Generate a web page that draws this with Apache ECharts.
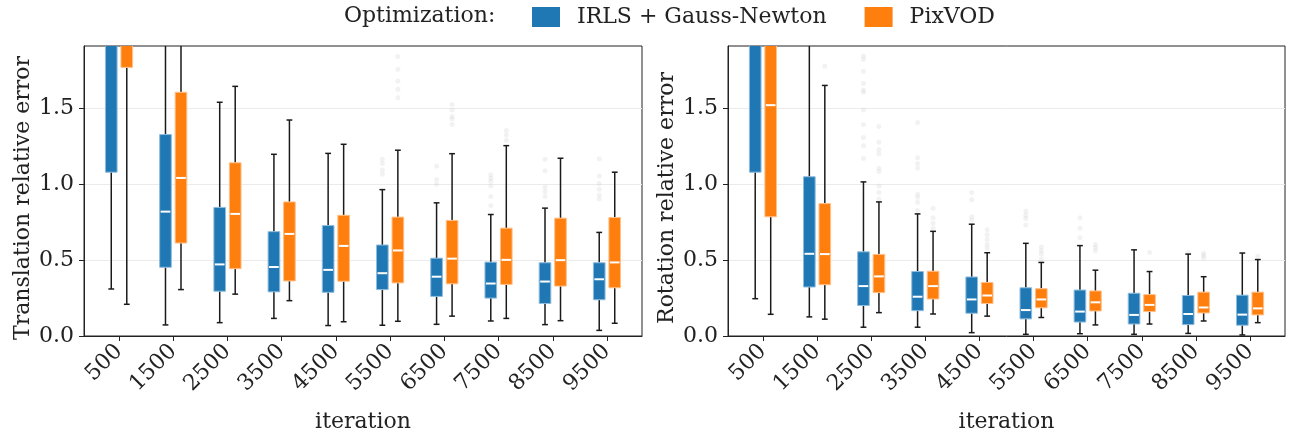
<!DOCTYPE html>
<html>
<head>
<meta charset="utf-8">
<script src="https://cdn.jsdelivr.net/npm/echarts@6/dist/echarts.min.js"></script>
<style>
  html, body { margin: 0; padding: 0; background: #fff; }
  #main { width: 1293px; height: 438px; }
</style>
</head>
<body>
<div id="main"></div>
<script>
// x categories
var iterLabels = ['500', '1500', '2500', '3500', '4500', '5500', '6500', '7500', '8500', '9500'];

// box stats: [min whisker, Q1, median, Q3, max whisker]
var transIrls = [
    [0.31, 1.08, 2.40, 3.60, 6.00],
    [0.073, 0.453, 0.820, 1.328, 2.60],
    [0.088, 0.295, 0.472, 0.848, 1.541],
    [0.116, 0.291, 0.455, 0.688, 1.198],
    [0.069, 0.288, 0.436, 0.728, 1.204],
    [0.071, 0.306, 0.414, 0.600, 0.965],
    [0.077, 0.261, 0.391, 0.513, 0.878],
    [0.099, 0.250, 0.346, 0.487, 0.801],
    [0.075, 0.214, 0.359, 0.483, 0.843],
    [0.037, 0.239, 0.374, 0.483, 0.683]
];
var transPix = [
    [0.209, 1.771, 2.90, 4.20, 7.00],
    [0.306, 0.613, 1.042, 1.607, 2.80],
    [0.276, 0.444, 0.805, 1.142, 1.646],
    [0.233, 0.363, 0.673, 0.884, 1.424],
    [0.094, 0.361, 0.594, 0.796, 1.264],
    [0.097, 0.350, 0.564, 0.784, 1.225],
    [0.131, 0.344, 0.510, 0.762, 1.202],
    [0.116, 0.340, 0.502, 0.711, 1.255],
    [0.101, 0.329, 0.500, 0.777, 1.172],
    [0.084, 0.318, 0.485, 0.781, 1.080]
];
var rotIrls = [
    [0.246, 1.080, 2.20, 3.40, 5.50],
    [0.126, 0.323, 0.542, 1.050, 2.20],
    [0.058, 0.201, 0.329, 0.555, 1.016],
    [0.058, 0.167, 0.259, 0.425, 0.805],
    [0.022, 0.150, 0.241, 0.389, 0.737],
    [0.011, 0.113, 0.171, 0.318, 0.611],
    [0.015, 0.092, 0.161, 0.303, 0.596],
    [0.011, 0.079, 0.139, 0.282, 0.568],
    [0.017, 0.075, 0.145, 0.267, 0.540],
    [0.007, 0.071, 0.141, 0.269, 0.547]
];
var rotPix = [
    [0.143, 0.786, 1.522, 2.30, 4.00],
    [0.111, 0.338, 0.540, 0.873, 1.652],
    [0.154, 0.286, 0.393, 0.538, 0.884],
    [0.145, 0.244, 0.329, 0.427, 0.690],
    [0.131, 0.214, 0.267, 0.353, 0.549],
    [0.122, 0.186, 0.241, 0.312, 0.485],
    [0.073, 0.165, 0.222, 0.297, 0.434],
    [0.079, 0.161, 0.205, 0.273, 0.425],
    [0.099, 0.152, 0.188, 0.289, 0.391],
    [0.088, 0.139, 0.182, 0.289, 0.504]
];

// outliers: [category index, value]
var transIrlsOut = [
    [5, 1.166], [5, 1.138], [5, 1.095], [5, 1.067],
    [6, 1.121], [6, 1.031], [6, 1.001],
    [7, 1.063], [7, 1.040], [7, 1.020], [7, 0.989], [7, 0.920], [7, 0.860],
    [8, 1.166], [8, 1.089], [8, 0.980], [8, 0.952], [8, 0.920],
    [9, 1.168], [9, 1.055], [9, 1.006], [9, 0.967], [9, 0.929], [9, 0.903]
];
var transPixOut = [
    [5, 1.842], [5, 1.759], [5, 1.682], [5, 1.627], [5, 1.571],
    [6, 1.526], [6, 1.490], [6, 1.447], [6, 1.430], [6, 1.394],
    [7, 1.355], [7, 1.326], [7, 1.291]
];
var rotIrlsOut = [
    [2, 1.846], [2, 1.825], [2, 1.746], [2, 1.665], [2, 1.622], [2, 1.607], [2, 1.490], [2, 1.394], [2, 1.309], [2, 1.255], [2, 1.170],
    [3, 1.407], [3, 1.176], [3, 1.138], [3, 1.106], [3, 0.935], [3, 0.914], [3, 0.882], [3, 0.828],
    [4, 0.946], [4, 0.899], [4, 0.786], [4, 0.764],
    [5, 0.822], [5, 0.796], [5, 0.775], [5, 0.732],
    [6, 0.779], [6, 0.711], [6, 0.647],
    [8, 0.550]
];
var rotPixOut = [
    [1, 1.778],
    [2, 1.381], [2, 1.277], [2, 1.230], [2, 1.202], [2, 1.106], [2, 1.085], [2, 0.989], [2, 0.946], [2, 0.903],
    [3, 0.843], [3, 0.779], [3, 0.743], [3, 0.711],
    [4, 0.700], [4, 0.668], [4, 0.636], [4, 0.604], [4, 0.579],
    [5, 0.587], [5, 0.562], [5, 0.540], [5, 0.508],
    [6, 0.604], [6, 0.583], [6, 0.562],
    [7, 0.551],
    [8, 0.545], [8, 0.530], [8, 0.515],
    [9, 0.526]
];

var BLUE = '#1f77b4';
var ORANGE = '#ff7f0e';
var FONT = 'DejaVu Serif';
var OFF = 0.143;     // hue offset in category units
var BOX_W = 0.215;   // box width in category units
var YMAX = 1.912;

function boxData(stats, off) {
    var out = [];
    for (var i = 0; i < stats.length; i++) {
        out.push([i + off].concat(stats[i]));
    }
    return out;
}
function outData(list, off) {
    var out = [];
    for (var i = 0; i < list.length; i++) {
        out.push([list[i][0] + off, list[i][1]]);
    }
    return out;
}

function makeRender(fill, edge) {
    return function (params, api) {
        var x = api.value(0);
        var lo = api.coord([x, api.value(1)]);
        var q1 = api.coord([x, api.value(2)]);
        var med = api.coord([x, api.value(3)]);
        var q3 = api.coord([x, api.value(4)]);
        var hi = api.coord([x, api.value(5)]);
        var w = api.size([BOX_W, 0])[0];
        var cx = lo[0];
        var cap = w / 4;
        var wh = { stroke: '#1a1a1a', lineWidth: 1.5 };
        return {
            type: 'group',
            children: [
                { type: 'line', shape: { x1: cx, y1: lo[1], x2: cx, y2: q1[1] }, style: wh },
                { type: 'line', shape: { x1: cx, y1: q3[1], x2: cx, y2: hi[1] }, style: wh },
                { type: 'line', shape: { x1: cx - cap, y1: lo[1], x2: cx + cap, y2: lo[1] }, style: wh },
                { type: 'line', shape: { x1: cx - cap, y1: hi[1], x2: cx + cap, y2: hi[1] }, style: wh },
                {
                    type: 'rect',
                    shape: { x: cx - w / 2, y: q3[1], width: w, height: q1[1] - q3[1] },
                    style: { fill: fill, stroke: edge, lineWidth: 1 }
                },
                {
                    type: 'line',
                    shape: { x1: cx - w / 2 + 1, y1: med[1], x2: cx + w / 2 - 1, y2: med[1] },
                    style: { stroke: '#ffffff', lineWidth: 2 }
                }
            ]
        };
    };
}

function xAxisOf(gi) {
    return {
        type: 'value',
        gridIndex: gi,
        min: -0.646,
        max: 9.646,
        name: 'iteration',
        nameLocation: 'middle',
        nameGap: 75,
        nameTextStyle: { fontFamily: FONT, fontSize: 22, color: '#222' },
        axisLine: { show: true, onZero: false, lineStyle: { color: '#222', width: 1 } },
        axisTick: { show: true, inside: false, length: 5, customValues: [0, 1, 2, 3, 4, 5, 6, 7, 8, 9], lineStyle: { color: '#222' } },
        axisLabel: {
            customValues: [0, 1, 2, 3, 4, 5, 6, 7, 8, 9],
            rotate: 45,
            margin: 12,
            fontFamily: FONT,
            fontSize: 22,
            color: '#222',
            formatter: function (v) { return iterLabels[Math.round(v)]; }
        },
        splitLine: { show: false }
    };
}
function yAxisOf(gi, name) {
    return {
        type: 'value',
        gridIndex: gi,
        min: 0,
        max: YMAX,
        interval: 0.5,
        name: name,
        nameLocation: 'middle',
        nameGap: 50,
        nameTextStyle: { fontFamily: FONT, fontSize: 22, color: '#222', padding: [0, 14, 0, 0] },
        axisLine: { show: true, onZero: false, lineStyle: { color: '#222', width: 1 } },
        axisTick: { show: true, inside: false, length: 5, customValues: [0, 0.5, 1, 1.5], lineStyle: { color: '#222' } },
        axisLabel: {
            customValues: [0, 0.5, 1, 1.5],
            margin: 10,
            fontFamily: FONT,
            fontSize: 22,
            color: '#222',
            formatter: function (v) { return v.toFixed(1); }
        },
        splitLine: { show: true, lineStyle: { color: '#ebebeb', width: 1 } }
    };
}
function boxSeries(name, gi, stats, off, fill, edge) {
    return {
        name: name,
        type: 'custom',
        xAxisIndex: gi,
        yAxisIndex: gi,
        clip: true,
        z: 3,
        itemStyle: { color: fill },
        encode: { x: 0, y: [1, 2, 3, 4, 5] },
        renderItem: makeRender(fill, edge),
        data: boxData(stats, off)
    };
}
function outSeries(gi, list, off) {
    return {
        name: 'outliers',
        type: 'scatter',
        xAxisIndex: gi,
        yAxisIndex: gi,
        symbol: 'circle',
        symbolSize: 5,
        z: 2,
        silent: true,
        itemStyle: { color: 'rgba(200,200,200,0.3)' },
        data: outData(list, off)
    };
}

var myChart = echarts.init(document.getElementById('main'));
var option = {
    backgroundColor: '#ffffff',
    animation: false,
    title: {
        text: 'Optimization:',
        left: 344,
        top: 5,
        padding: 0,
        textStyle: { fontFamily: FONT, fontSize: 22, fontWeight: 'normal', color: '#222' }
    },
    legend: {
        data: ['IRLS + Gauss-Newton', 'PixVOD'],
        left: 532,
        top: 6,
        padding: 0,
        icon: 'rect',
        itemWidth: 28,
        itemHeight: 20,
        itemGap: 38,
        textStyle: { fontFamily: FONT, fontSize: 22, color: '#222', padding: [0, 0, 0, 12] }
    },
    grid: [
        { left: 84, top: 46, width: 558, height: 298, show: true, borderColor: '#222', borderWidth: 1, backgroundColor: 'transparent' },
        { left: 728, top: 46, width: 557, height: 298, show: true, borderColor: '#222', borderWidth: 1, backgroundColor: 'transparent' }
    ],
    xAxis: [xAxisOf(0), xAxisOf(1)],
    yAxis: [yAxisOf(0, 'Translation relative error'), yAxisOf(1, 'Rotation relative error')],
    series: [
        outSeries(0, transIrlsOut, -OFF),
        outSeries(0, transPixOut, OFF),
        outSeries(1, rotIrlsOut, -OFF),
        outSeries(1, rotPixOut, OFF),
        boxSeries('IRLS + Gauss-Newton', 0, transIrls, -OFF, BLUE, '#8fbcdc'),
        boxSeries('PixVOD', 0, transPix, OFF, ORANGE, '#ffc08a'),
        boxSeries('IRLS + Gauss-Newton', 1, rotIrls, -OFF, BLUE, '#8fbcdc'),
        boxSeries('PixVOD', 1, rotPix, OFF, ORANGE, '#ffc08a')
    ]
};
myChart.setOption(option);
window.addEventListener('resize', function () { myChart.resize(); })
</script>
</body>
</html>
